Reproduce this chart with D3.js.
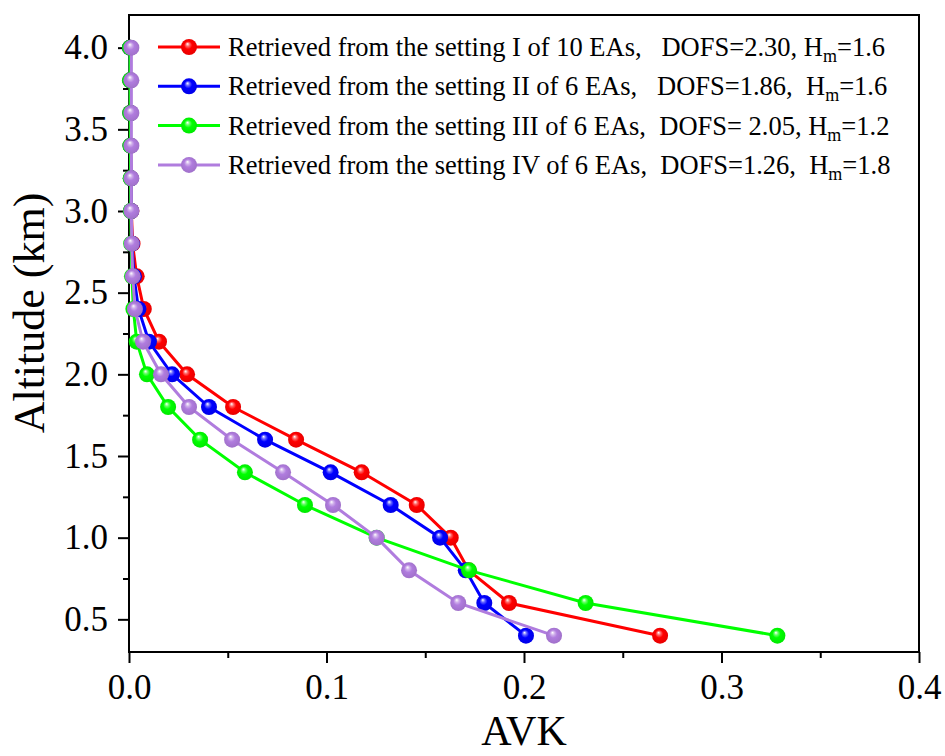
<!DOCTYPE html>
<html>
<head>
<meta charset="utf-8">
<script src="https://cdn.jsdelivr.net/npm/d3@7"></script>
<style>
  body { margin: 0; background: #fff; }
  text { font-family: "Liberation Serif", "Times New Roman", serif; }
</style>
</head>
<body>
<div id="chart"></div>
<script>
// altitude levels (km)
const altitudes = [4.0, 3.8, 3.6, 3.4, 3.2, 3.0, 2.8, 2.6, 2.4, 2.2, 2.0, 1.8, 1.6, 1.4, 1.2, 1.0, 0.8, 0.6, 0.4];

// AVK values per setting, same order as altitudes
const avkSettingI   = [0.0005, 0.0006, 0.0007, 0.0008, 0.001, 0.0012, 0.0018, 0.0039, 0.0075, 0.0152, 0.0294, 0.0527, 0.0846, 0.1178, 0.1457, 0.1629, 0.172, 0.1924, 0.2689];
const avkSettingII  = [0.0005, 0.0006, 0.0007, 0.0008, 0.001, 0.0011, 0.0015, 0.0025, 0.0048, 0.0101, 0.0218, 0.0405, 0.0689, 0.1021, 0.1325, 0.1575, 0.1705, 0.1799, 0.2010];
const avkSettingIII = [0.0005, 0.0005, 0.0006, 0.0007, 0.0008, 0.0009, 0.0011, 0.0015, 0.0022, 0.0039, 0.0091, 0.0198, 0.0360, 0.0587, 0.0891, 0.1254, 0.1722, 0.2312, 0.3283];
const avkSettingIV  = [0.0012, 0.0012, 0.0012, 0.0012, 0.0012, 0.0012, 0.0014, 0.0019, 0.0030, 0.0071, 0.0162, 0.0304, 0.0522, 0.0780, 0.1033, 0.1254, 0.1418, 0.1667, 0.2152];

const seriesNames = [
  ['Retrieved from the setting I of 10 EAs,   DOFS=2.30, H', '=1.6'],
  ['Retrieved from the setting II of 6 EAs,   DOFS=1.86,  H', '=1.6'],
  ['Retrieved from the setting III of 6 EAs,  DOFS= 2.05, H', '=1.2'],
  ['Retrieved from the setting IV of 6 EAs,  DOFS=1.26,  H', '=1.8']
];
const seriesColors = ['#ff0000', '#0000ff', '#00ff00', '#b07cde'];

const xTicks = [0.0, 0.1, 0.2, 0.3, 0.4];
const xMinorTicks = [0.05, 0.15, 0.25, 0.35];
const yTicks = [0.5, 1.0, 1.5, 2.0, 2.5, 3.0, 3.5, 4.0];
const yMinorTicks = [0.75, 1.25, 1.75, 2.25, 2.75, 3.25, 3.75];

const width = 945;
const height = 756;
const margin = { top: 15, right: 26, bottom: 104, left: 129 };

const svg = d3.select('#chart')
  .append('svg')
  .attr('width', width)
  .attr('height', height);

const x = d3.scaleLinear().domain([0, 0.4]).range([margin.left, width - margin.right]);
const y = d3.scaleLinear().domain([0.3, 4.2]).range([height - margin.bottom, margin.top]);

// sphere-like marker gradients
const defs = svg.append('defs');
seriesColors.forEach((c, i) => {
  const g = defs.append('radialGradient')
    .attr('id', 'ball' + i)
    .attr('cx', '0.5').attr('cy', '0.5').attr('r', '0.55')
    .attr('fx', '0.4').attr('fy', '0.3');
  g.append('stop').attr('offset', '0%').attr('stop-color', '#ffffff');
  g.append('stop').attr('offset', '22%').attr('stop-color', d3.interpolateRgb('#ffffff', c)(0.6));
  g.append('stop').attr('offset', '45%').attr('stop-color', c);
  g.append('stop').attr('offset', '100%').attr('stop-color', d3.color(c).darker(0.3));
});

// axes
const fmt = d3.format('.1f');
const xAxis = svg.append('g')
  .attr('transform', `translate(0,${height - margin.bottom})`)
  .call(d3.axisBottom(x).tickValues(xTicks).tickFormat(fmt).tickSize(11).tickSizeOuter(0).tickPadding(11));
const xMinor = svg.append('g')
  .attr('transform', `translate(0,${height - margin.bottom})`)
  .call(d3.axisBottom(x).tickValues(xMinorTicks).tickFormat('').tickSize(6).tickSizeOuter(0));
const yAxis = svg.append('g')
  .attr('transform', `translate(${margin.left},0)`)
  .call(d3.axisLeft(y).tickValues(yTicks).tickFormat(fmt).tickSize(11).tickSizeOuter(0).tickPadding(10));
const yMinor = svg.append('g')
  .attr('transform', `translate(${margin.left},0)`)
  .call(d3.axisLeft(y).tickValues(yMinorTicks).tickFormat('').tickSize(6).tickSizeOuter(0));

[xAxis, xMinor, yAxis, yMinor].forEach((a) => {
  a.select('.domain').remove();
  a.selectAll('line').attr('stroke', '#000').attr('stroke-width', 2);
  a.selectAll('text')
    .attr('fill', '#000')
    .style('font-family', '"Liberation Serif", serif')
    .style('font-size', '35px');
});

// frame
svg.append('rect')
  .attr('x', margin.left)
  .attr('y', margin.top)
  .attr('width', width - margin.left - margin.right)
  .attr('height', height - margin.top - margin.bottom)
  .style('fill', 'none')
  .style('stroke', '#000')
  .style('stroke-width', '2px');

// axis titles
svg.append('text')
  .attr('x', (margin.left + width - margin.right) / 2)
  .attr('y', 745)
  .attr('text-anchor', 'middle')
  .style('font-size', '42px')
  .text('AVK');

svg.append('text')
  .attr('transform', 'translate(44,313) rotate(-90)')
  .attr('text-anchor', 'middle')
  .style('font-size', '44px')
  .text('Altitude (km)');

// series
const allSeries = [avkSettingI, avkSettingII, avkSettingIII, avkSettingIV];
const line = d3.line()
  .x((d) => x(d[0]))
  .y((d) => y(d[1]));

allSeries.forEach((vals, i) => {
  const pts = vals.map((v, j) => [v, altitudes[j]]);
  const g = svg.append('g');
  g.append('path')
    .datum(pts)
    .attr('d', line)
    .style('fill', 'none')
    .style('stroke', seriesColors[i])
    .style('stroke-width', '3px');
  g.selectAll('circle')
    .data(pts)
    .enter()
    .append('circle')
    .attr('cx', (d) => x(d[0]))
    .attr('cy', (d) => y(d[1]))
    .attr('r', 8)
    .style('fill', `url(#ball${i})`);
});

// legend
const legend = svg.append('g');
seriesNames.forEach((name, i) => {
  const cy = 47 + i * 39.3;
  const row = legend.append('g');
  row.append('line')
    .attr('x1', 158).attr('x2', 220)
    .attr('y1', cy).attr('y2', cy)
    .style('stroke', seriesColors[i])
    .style('stroke-width', '3px');
  row.append('circle')
    .attr('cx', 189).attr('cy', cy).attr('r', 8)
    .style('fill', `url(#ball${i})`);
  const t = row.append('text')
    .attr('x', 228)
    .attr('y', cy + 9)
    .style('font-size', '26.5px')
    .style('white-space', 'pre');
  t.append('tspan').text(name[0]);
  t.append('tspan').attr('dy', 6).style('font-size', '18px').text('m');
  t.append('tspan').attr('dy', -6).text(name[1]);
});
</script>
</body>
</html>
